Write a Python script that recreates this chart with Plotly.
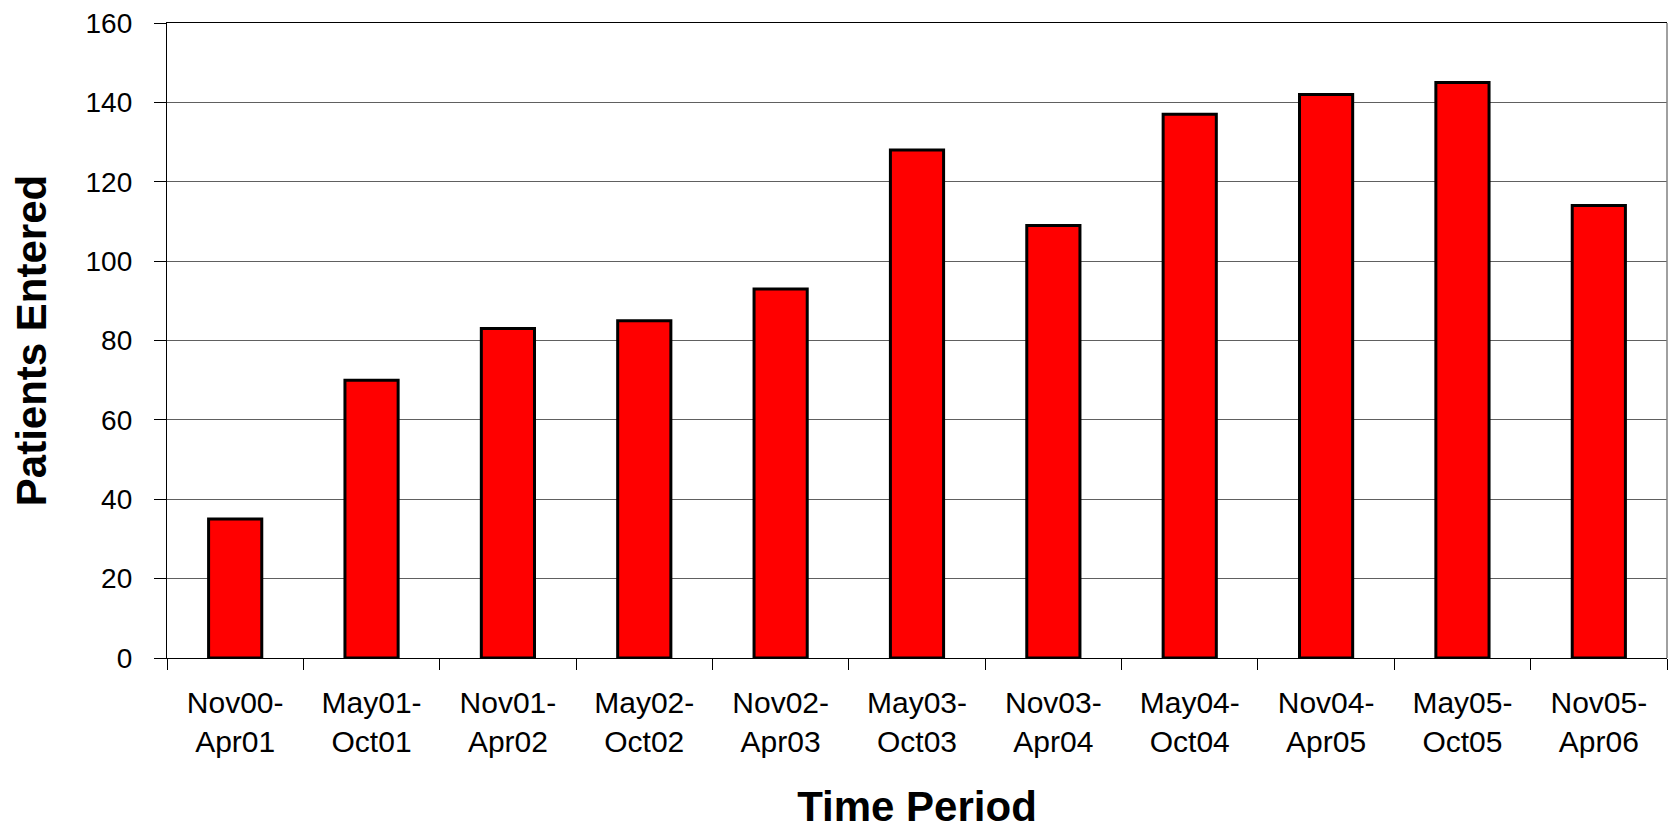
import plotly.graph_objects as go

categories = ["Nov00-<br>Apr01", "May01-<br>Oct01", "Nov01-<br>Apr02", "May02-<br>Oct02",
              "Nov02-<br>Apr03", "May03-<br>Oct03", "Nov03-<br>Apr04", "May04-<br>Oct04",
              "Nov04-<br>Apr05", "May05-<br>Oct05", "Nov05-<br>Apr06"]
patients = [35, 70, 83, 85, 93, 128, 109, 137, 142, 145, 114]
y_ticks = [0, 20, 40, 60, 80, 100, 120, 140, 160]

fig = go.Figure(go.Bar(
    x=categories, y=patients,
    marker=dict(color="#FF0000", line=dict(color="#000000", width=3)),
    width=0.39,
))

font_family = "Liberation Sans, Arial, sans-serif"
fig.update_layout(
    width=1677, height=827,
    margin=dict(l=159, r=18, t=15, b=177),
    paper_bgcolor="white", plot_bgcolor="white",
    showlegend=False,
    font=dict(family=font_family, color="black"),
    xaxis=dict(
        title=dict(text="<b>Time Period</b>", font=dict(size=42, family=font_family), standoff=34),
        automargin=False,
        tickfont=dict(size=30),
        ticklabelstandoff=18,
        showline=True, linecolor="#000000", linewidth=1.3,
        mirror=True,
        ticks="outside", ticklen=11, tickcolor="#000000", tickwidth=1,
        tickson="boundaries",
        showgrid=False,
    ),
    yaxis=dict(
        title=dict(text="<b>Patients Entered</b>", font=dict(size=42, family=font_family), standoff=34),
        automargin=False,
        range=[0, 160], tickvals=y_ticks,
        tickfont=dict(size=28),
        ticklabeloverflow="allow",
        showline=True, linecolor="#000000", linewidth=1.3,
        ticks="outside", ticklen=12, tickcolor="#000000", tickwidth=1,
        ticklabelstandoff=16,
        showgrid=True, gridcolor="#606060", gridwidth=1,
        zeroline=False,
    ),
    shapes=[dict(type="line", xref="paper", yref="paper", x0=1, x1=1, y0=0, y1=1,
                 line=dict(color="#808080", width=1.5))],
)

fig.write_html("out.html")
